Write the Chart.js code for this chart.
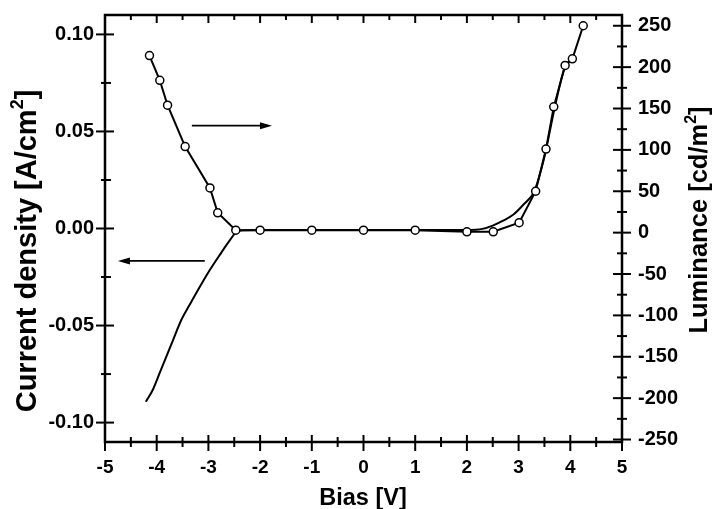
<!DOCTYPE html>
<html>
<head>
<meta charset="utf-8">
<script src="https://cdn.jsdelivr.net/npm/chart.js@4"></script>
<style>
  html, body { margin: 0; padding: 0; background: #fff; }
  #wrap { width: 712px; height: 509px; }
</style>
</head>
<body>
<div id="wrap"><canvas id="chart1" width="712" height="509"></canvas></div>
<script>
// current density curve (left axis)
var biasJ = [-4.21, -4.07, -3.94, -3.81, -3.68, -3.52, -3.36, -3.16, -2.97, -2.78, -2.58, -2.45, -2.3, -2.0, -1.0, 0.0, 1.0, 2.0, 2.3, 2.5, 2.7, 2.9, 3.1, 3.3, 3.5, 3.7, 3.9, 4.02];
var currentJ = [-0.0893, -0.0828, -0.0743, -0.0657, -0.0572, -0.0469, -0.0392, -0.0298, -0.0213, -0.0136, -0.0059, -0.0016, -0.0009, -0.0008, -0.0008, -0.0008, -0.0008, -0.0008, -0.0002, 0.0015, 0.0040, 0.0072, 0.0125, 0.0190, 0.0370, 0.0625, 0.0835, 0.0870];

// luminance points (right axis)
var biasL = [-4.14, -3.94, -3.79, -3.45, -2.97, -2.82, -2.47, -2.0, -1.0, 0.0, 1.0, 2.0, 2.51, 3.01, 3.33, 3.53, 3.68, 3.90, 4.04, 4.25];
var luminance = [214, 184, 154, 104, 54, 24, 3, 3, 3, 3, 3, 1, 1, 12, 50, 101, 152, 202, 210, 250];

var xTicks = [-5, -4, -3, -2, -1, 0, 1, 2, 3, 4, 5];
var yTicks = [-0.10, -0.05, 0.00, 0.05, 0.10];
var y1Ticks = [-250, -200, -150, -100, -50, 0, 50, 100, 150, 200, 250];

// annotation arrows [bias, current density]
var arrowFrom = [[-3.32, 0.053], [-3.07, -0.0167]];
var arrowTo = [[-1.77, 0.053], [-4.75, -0.0167]];

var FONT = "'Liberation Sans', Arial, sans-serif";

function titleText(ctx, main, sup, tail, size, x, y, rot) {
    ctx.save();
    ctx.translate(x, y);
    ctx.rotate(rot);
    ctx.font = 'bold ' + size + 'px ' + FONT;
    var w1 = ctx.measureText(main).width;
    var w3 = ctx.measureText(tail).width;
    ctx.font = 'bold ' + Math.round(size * 0.62) + 'px ' + FONT;
    var w2 = sup ? ctx.measureText(sup).width : 0;
    var start = -(w1 + w2 + w3) / 2;
    ctx.fillStyle = '#000';
    ctx.textBaseline = 'alphabetic';
    ctx.textAlign = 'left';
    ctx.font = 'bold ' + size + 'px ' + FONT;
    ctx.fillText(main, start, 0);
    if (sup) {
        ctx.font = 'bold ' + Math.round(size * 0.62) + 'px ' + FONT;
        ctx.fillText(sup, start + w1, -size * 0.45);
    }
    ctx.font = 'bold ' + size + 'px ' + FONT;
    ctx.fillText(tail, start + w1 + w2, 0);
    ctx.restore();
}

function line(ctx, x1, y1, x2, y2) {
    ctx.beginPath();
    ctx.moveTo(x1, y1);
    ctx.lineTo(x2, y2);
    ctx.stroke();
}

function noPad(s) {
    s.paddingTop = 0;
    s.paddingBottom = 0;
    s.paddingLeft = 0;
    s.paddingRight = 0;
}

var frame = {
    id: 'frame',
    afterDatasetsDraw: function(chart) {
        var ctx = chart.ctx;
        var a = chart.chartArea;
        var sx = chart.scales.x, sy = chart.scales.y, sy1 = chart.scales.y1;
        ctx.save();
        ctx.strokeStyle = '#000';
        ctx.lineWidth = 2.5;
        ctx.strokeRect(a.left, a.top, a.right - a.left, a.bottom - a.top);

        ctx.lineWidth = 2;
        xTicks.forEach(function(v, i) {
            var px = sx.getPixelForValue(v);
            line(ctx, px, a.bottom - 7, px, a.bottom + 9);
            line(ctx, px, a.top, px, a.top + 8);
            if (i < xTicks.length - 1) {
                var pm = sx.getPixelForValue(v + 0.5);
                line(ctx, pm, a.bottom - 5, pm, a.bottom + 5);
                line(ctx, pm, a.top, pm, a.top + 5);
            }
        });
        yTicks.forEach(function(v, i) {
            var py = sy.getPixelForValue(v);
            line(ctx, a.left - 9, py, a.left + 9, py);
            if (i < yTicks.length - 1) {
                var pm = sy.getPixelForValue(v + 0.025);
                line(ctx, a.left - 4, pm, a.left + 6, pm);
            }
        });
        y1Ticks.forEach(function(v, i) {
            var py = sy1.getPixelForValue(v);
            line(ctx, a.right - 9, py, a.right + 9, py);
            if (i < y1Ticks.length - 1) {
                var pm = sy1.getPixelForValue(v + 25);
                line(ctx, a.right - 5, pm, a.right + 5, pm);
            }
        });

        // arrows
        ctx.lineWidth = 1.6;
        ctx.fillStyle = '#000';
        arrowFrom.forEach(function(f, i) {
            var t = arrowTo[i];
            var x1 = sx.getPixelForValue(f[0]), y1 = sy.getPixelForValue(f[1]);
            var x2 = sx.getPixelForValue(t[0]), y2 = sy.getPixelForValue(t[1]);
            var dir = x2 > x1 ? 1 : -1;
            line(ctx, x1, y1, x2 - dir * 8, y2);
            ctx.beginPath();
            ctx.moveTo(x2, y2);
            ctx.lineTo(x2 - dir * 12, y2 - 3.5);
            ctx.lineTo(x2 - dir * 12, y2 + 3.5);
            ctx.closePath();
            ctx.fill();
        });

        titleText(ctx, 'Current density [A/cm', '2', ']', 29, 36, 251, -Math.PI / 2);
        titleText(ctx, 'Luminance [cd/m', '2', ']', 25.5, 707, 220, -Math.PI / 2);
        titleText(ctx, 'Bias [V]', '', '', 23.5, 363, 505, 0);
        ctx.restore();
    }
};

var ctx = document.getElementById('chart1').getContext('2d');
var myChart = new Chart(ctx, {
    type: 'scatter',
    data: {
        datasets: [{
            label: 'Luminance',
            data: biasL.map(function(b, i) { return {x: b, y: luminance[i]}; }),
            yAxisID: 'y1',
            showLine: true,
            borderColor: '#000',
            borderWidth: 2,
            pointRadius: 4,
            pointBorderWidth: 1.5,
            pointBackgroundColor: '#fff',
            pointBorderColor: '#000'
        }, {
            label: 'Current density',
            data: biasJ.map(function(b, i) { return {x: b, y: currentJ[i]}; }),
            yAxisID: 'y',
            showLine: true,
            cubicInterpolationMode: 'monotone',
            borderColor: '#000',
            borderWidth: 2,
            pointRadius: 0
        }]
    },
    options: {
        responsive: false,
        animation: false,
        devicePixelRatio: 1,
        layout: { padding: { top: 15, left: 0, right: 0, bottom: 0 } },
        plugins: {
            legend: { display: false },
            tooltip: { enabled: false }
        },
        scales: {
            x: {
                type: 'linear',
                min: -5,
                max: 5,
                afterFit: function(s) { s.height = 67; noPad(s); },
                afterBuildTicks: function(s) { s.ticks = xTicks.map(function(v) { return {value: v}; }); },
                grid: { display: false, drawTicks: false },
                border: { display: false },
                ticks: {
                    color: '#000',
                    padding: 14,
                    font: { family: FONT, size: 19, weight: 'bold' },
                    callback: function(v) { return String(v); }
                }
            },
            y: {
                type: 'linear',
                position: 'left',
                min: -0.11,
                max: 0.11,
                afterFit: function(s) { s.width = 105; noPad(s); },
                afterBuildTicks: function(s) { s.ticks = yTicks.map(function(v) { return {value: v}; }); },
                grid: { display: false, drawTicks: false },
                border: { display: false },
                ticks: {
                    color: '#000',
                    padding: 11,
                    font: { family: FONT, size: 20, weight: 'bold' },
                    callback: function(v) { return v.toFixed(2); }
                }
            },
            y1: {
                type: 'linear',
                position: 'right',
                min: -253,
                max: 263,
                afterFit: function(s) { s.width = 90; noPad(s); },
                afterBuildTicks: function(s) { s.ticks = y1Ticks.map(function(v) { return {value: v}; }); },
                grid: { display: false, drawTicks: false },
                border: { display: false },
                ticks: {
                    color: '#000',
                    padding: 16,
                    font: { family: FONT, size: 20, weight: 'bold' },
                    callback: function(v) { return String(v); }
                }
            }
        }
    },
    plugins: [frame]
});
</script>
</body>
</html>
